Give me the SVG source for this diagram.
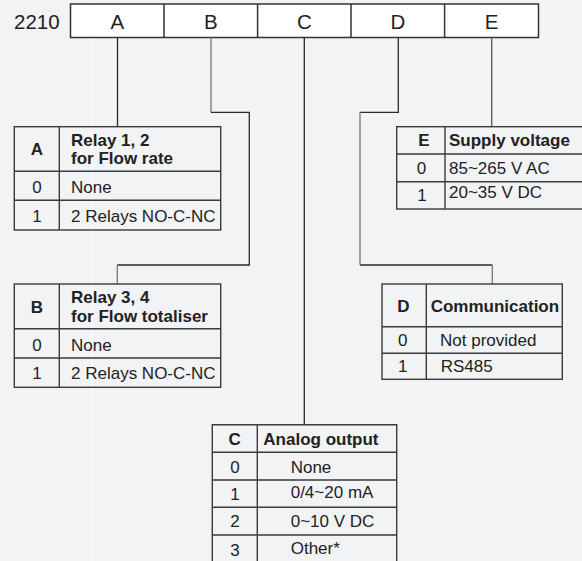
<svg xmlns="http://www.w3.org/2000/svg" width="582" height="561" viewBox="0 0 582 561">
<style>
  .t{font-family:"Liberation Sans",Arial,sans-serif;font-size:17px;fill:#222}
  .b{font-weight:bold}
  .m{text-anchor:middle}
  .h{font-family:"Liberation Sans",Arial,sans-serif;font-size:20.5px;fill:#222}
  .tb{fill:none;stroke:#3a3a3a;stroke-width:1.4}
  .c{fill:none;stroke:#2a2a2a;stroke-width:1.3}
  .g{fill:none;stroke:#777;stroke-width:1.3}
</style>
<rect width="582" height="561" fill="#f2f3f5"/>
<line x1="92" y1="0" x2="92" y2="561" stroke="#fbfbfc" stroke-width="1.5"/>

<g id="code">
  <text class="h" x="14" y="29.3">2210</text>
  <rect x="70.5" y="4" width="468" height="33.5" fill="#fff" stroke="#333" stroke-width="1.5"/>
  <path d="M164 4V37.5M257.6 4V37.5M351 4V37.5M444.6 4V37.5" stroke="#333" stroke-width="1.5"/>
  <text class="h m" x="117.3" y="29.3">A</text>
  <text class="h m" x="210.8" y="29.3">B</text>
  <text class="h m" x="304.3" y="29.3">C</text>
  <text class="h m" x="397.8" y="29.3">D</text>
  <text class="h m" x="491.5" y="29.3">E</text>
</g>

<g id="connectors">
  <path class="c" d="M117.5 37.5V126.7"/>
  <path class="g" d="M211 37.5V112.3"/>
  <path class="c" d="M211 112.3H249.3V265H117.3"/>
  <path class="g" d="M117.3 265V284"/>
  <path class="c" d="M304.3 37.5V424.7"/>
  <path class="c" d="M398.3 37.5V112.3H360"/>
  <path class="g" d="M360 112.3V265"/>
  <path class="c" d="M360 265H492.3"/>
  <path class="g" d="M492.3 265V284"/>
  <path class="c" d="M491.7 37.5V126.7" style="stroke:#555"/>
</g>

<g id="tableA">
  <rect class="tb" x="14.3" y="126.7" width="206.4" height="103.3"/>
  <path class="tb" d="M59.3 126.7V230M14.3 171.3H220.7M14.3 200.3H220.7"/>
  <text class="t b m" x="37" y="155">A</text>
  <text class="t b" x="71" y="146">Relay 1, 2</text>
  <text class="t b" x="71" y="164.3">for Flow rate</text>
  <text class="t m" x="37" y="192.7">0</text>
  <text class="t" x="71" y="192.7">None</text>
  <text class="t m" x="37" y="221.7">1</text>
  <text class="t" x="71" y="221.7">2 Relays NO-C-NC</text>
</g>

<g id="tableB">
  <rect class="tb" x="14.3" y="284" width="206.4" height="103.3"/>
  <path class="tb" d="M59.3 284V387.3M14.3 328.7H220.7M14.3 358H220.7"/>
  <text class="t b m" x="37" y="313.3">B</text>
  <text class="t b" x="71" y="303.3">Relay 3, 4</text>
  <text class="t b" x="71" y="321.7">for Flow totaliser</text>
  <text class="t m" x="37" y="350.7">0</text>
  <text class="t" x="71" y="350.7">None</text>
  <text class="t m" x="37" y="379.3">1</text>
  <text class="t" x="71" y="379.3">2 Relays NO-C-NC</text>
</g>

<g id="tableE">
  <rect class="tb" x="396.7" y="126.7" width="190" height="82.3"/>
  <path class="tb" d="M445 126.7V209M396.7 154H586M396.7 181.7H586"/>
  <text class="t b m" x="424" y="146">E</text>
  <text class="t b" x="449" y="146">Supply voltage</text>
  <text class="t m" x="421.5" y="174">0</text>
  <text class="t" x="449" y="174">85~265 V AC</text>
  <text class="t m" x="422" y="200.7">1</text>
  <text class="t" x="449" y="198.3">20~35 V DC</text>
</g>

<g id="tableD">
  <rect class="tb" x="382" y="284" width="180.3" height="95.3"/>
  <path class="tb" d="M426.3 284V379.3M382 326.7H562.3M382 353.3H562.3"/>
  <text class="t b m" x="403.3" y="312.3">D</text>
  <text class="t b" x="430.7" y="312.3">Communication</text>
  <text class="t m" x="402.7" y="345.7">0</text>
  <text class="t" x="440" y="345.7">Not provided</text>
  <text class="t m" x="402.7" y="372.3">1</text>
  <text class="t" x="440.7" y="372.3">RS485</text>
</g>

<g id="tableC">
  <path class="tb" d="M212.3 565V424.7H396.7V565M257.3 424.7V565M212.3 452.3H396.7M212.3 480H396.7M212.3 507.3H396.7M212.3 535H396.7"/>
  <text class="t b m" x="234.7" y="445">C</text>
  <text class="t b" x="263.3" y="445">Analog output</text>
  <text class="t m" x="235" y="472.7">0</text>
  <text class="t" x="290.7" y="472.7">None</text>
  <text class="t m" x="235" y="500">1</text>
  <text class="t" x="290.7" y="498.3">0/4~20 mA</text>
  <text class="t m" x="235" y="527.3">2</text>
  <text class="t" x="290.7" y="527.3">0~10 V DC</text>
  <text class="t m" x="235" y="555.7">3</text>
  <text class="t" x="290.7" y="554">Other*</text>
</g>
</svg>
